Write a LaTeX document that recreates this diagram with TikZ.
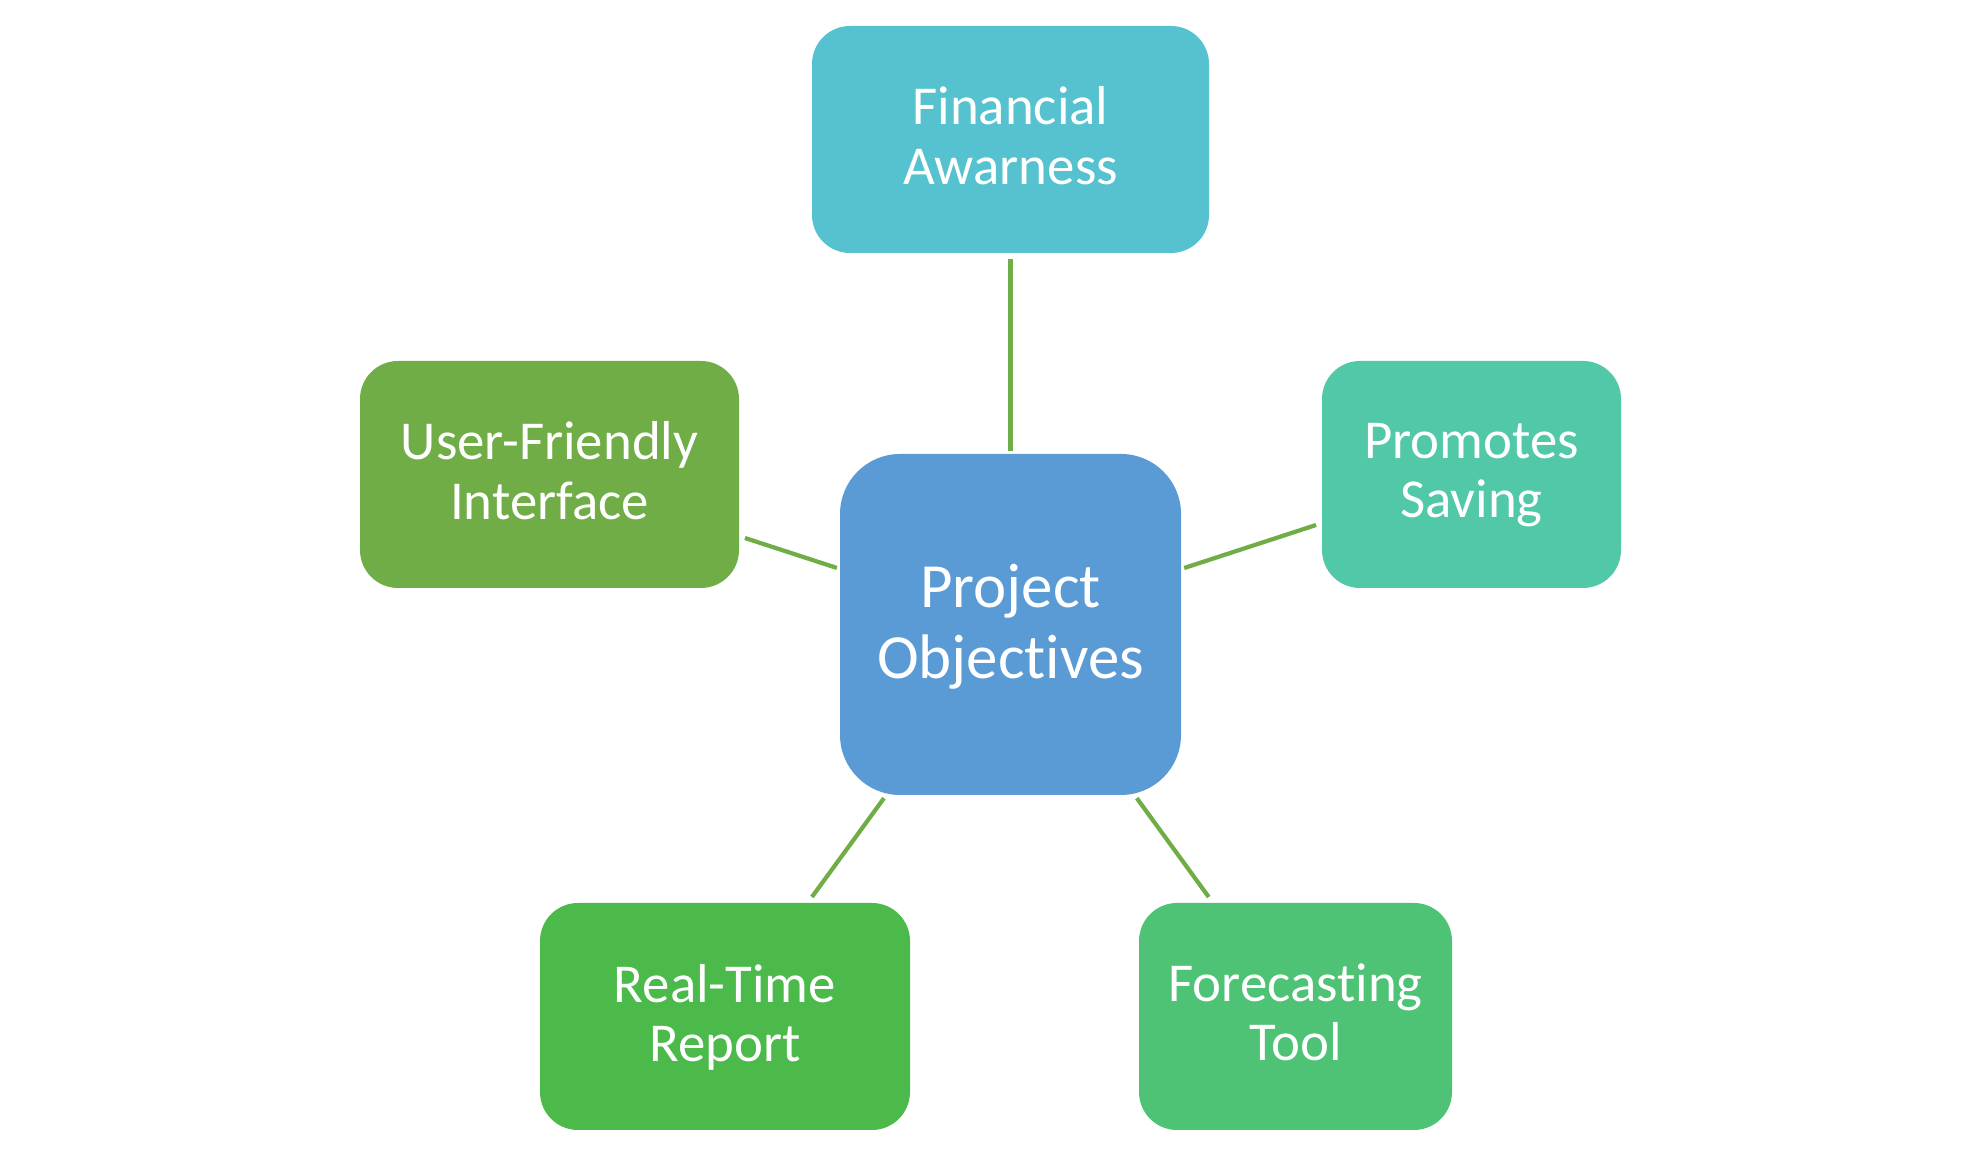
\documentclass[tikz,border=0pt]{standalone}
\usepackage{fontspec}
\setmainfont{Carlito}[Ligatures={NoCommon,NoContextual}]
\usepackage{xcolor}
\definecolor{hubblue}{HTML}{5B9BD5}
\definecolor{tealfin}{HTML}{56C2CF}
\definecolor{greenui}{HTML}{70AD47}
\definecolor{mintsave}{HTML}{51C8A8}
\definecolor{greenrt}{HTML}{4BBA4A}
\definecolor{greenfc}{HTML}{4EC275}
\definecolor{linkgreen}{HTML}{70AD47}
\usepackage{tikz}

\begin{document}
\begin{tikzpicture}[
    hub/.style={rectangle, fill=hubblue, text=white, rounded corners=0.6cm,
        minimum width=3.41cm, minimum height=3.41cm, align=center,
        text depth=0.07cm, outer sep=0.9pt,
        font=\fontsize{17.9}{20.2}\selectfont},
    goal/.style={rectangle, text=white, rounded corners=0.38cm,
        minimum height=2.27cm, align=center, text depth=0.08cm,
        outer sep=1.7pt, font=\fontsize{15.6}{16.8}\selectfont},
    link/.style={linkgreen, line width=1.2pt}
]
\useasboundingbox (0,0) rectangle (19.8,11.55);

% Centre
\node[hub] (hub) at (10.105, 5.305) {Project\\Objectives};

% Objectives round the centre
\node[goal, fill=tealfin, minimum width=3.97cm] (fin) at (10.105, 10.155) {Financial\\Awarness};
\node[goal, fill=greenui, minimum width=3.79cm] (ufi) at (5.495, 6.805) {User-Friendly\\Interface};
\node[goal, fill=mintsave, minimum width=2.99cm] (psv) at (14.715, 6.805) {Promotes\\Saving};
\node[goal, fill=greenrt, minimum width=3.70cm] (rtr) at (7.25, 1.385) {Real-Time\\Report};
\node[goal, fill=greenfc, minimum width=3.13cm] (fct) at (12.955, 1.385) {Forecasting\\Tool};

% Links centre -> objectives
\draw[link] (hub) -- (fin);
\draw[link] (hub) -- (ufi);
\draw[link] (hub) -- (psv);
\draw[link] (hub) -- (rtr);
\draw[link] (hub) -- (fct);

\end{tikzpicture}
\end{document}
